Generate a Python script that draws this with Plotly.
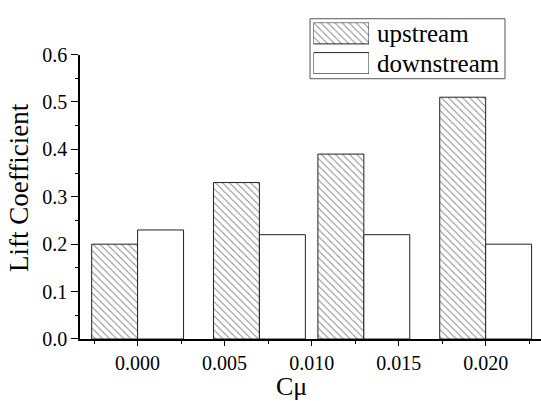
import plotly.graph_objects as go

# Blowing momentum coefficient of each case and the lift coefficients
c_mu = [0.0, 0.007, 0.013, 0.020]
upstream = [0.20, 0.33, 0.39, 0.51]
downstream = [0.23, 0.22, 0.22, 0.20]
series_names = ["upstream", "downstream"]
x_ticks = [0.000, 0.005, 0.010, 0.015, 0.020]
x_tick_labels = ["0.000", "0.005", "0.010", "0.015", "0.020"]
y_ticks = [0.0, 0.1, 0.2, 0.3, 0.4, 0.5, 0.6]

W, H = 541, 401
ML, MB = 80, 62
plot_w = W - ML
plot_h = H - MB
bar_w = 0.00264
FONT = "Liberation Serif, Times New Roman, serif"
HATCH = dict(shape="\\", size=5, solidity=0.2, fgcolor="#111111",
             bgcolor="white", fillmode="overlay")
EDGE = dict(color="#222222", width=1)


def px_x(p):
    return (p - ML) / plot_w


def px_y(p):
    return (plot_h - p) / plot_h


fig = go.Figure()
fig.add_trace(go.Bar(x=c_mu, y=upstream, width=bar_w, offset=-bar_w,
                     marker=dict(color="white", pattern=HATCH, line=EDGE),
                     name=series_names[0], showlegend=False))
fig.add_trace(go.Bar(x=c_mu, y=downstream, width=bar_w, offset=0,
                     marker=dict(color="white", line=EDGE),
                     name=series_names[1], showlegend=False))

# Legend key swatches drawn on their own small axes
fig.add_trace(go.Bar(y=[1], x=[1], orientation="h", width=0.71,
                     marker=dict(color="white", pattern=HATCH, line=EDGE),
                     xaxis="x2", yaxis="y2", showlegend=False, hoverinfo="skip"))
fig.add_trace(go.Bar(y=[0], x=[1], orientation="h", width=0.71,
                     marker=dict(color="white", line=EDGE),
                     xaxis="x2", yaxis="y2", showlegend=False, hoverinfo="skip"))

fig.add_shape(type="rect", xref="paper", yref="paper",
              x0=px_x(310), x1=px_x(505), y0=px_y(70), y1=px_y(8),
              line=dict(color="#555555", width=1), fillcolor="white", layer="below")
for name, cy in zip(series_names, [23, 54]):
    fig.add_annotation(xref="paper", yref="paper", x=px_x(375), y=px_y(cy),
                       text=name, showarrow=False, xanchor="left", yanchor="middle",
                       font=dict(family=FONT, size=25, color="black"))

# Axis titles
fig.add_annotation(xref="paper", yref="paper", x=px_x(291), y=px_y(388),
                   text="Cμ", showarrow=False, xanchor="center", yanchor="middle",
                   font=dict(family=FONT, size=26, color="black"))
fig.add_annotation(xref="paper", yref="paper", x=px_x(19), y=px_y(183),
                   text="Lift Coefficient", textangle=-90, showarrow=False,
                   xanchor="center", yanchor="middle",
                   font=dict(family=FONT, size=27, color="black"))

fig.update_layout(
    width=W, height=H,
    margin=dict(l=ML, r=0, t=0, b=MB),
    paper_bgcolor="white", plot_bgcolor="white",
    barmode="overlay",
    font=dict(family=FONT, color="black"),
    xaxis=dict(range=[-0.00331, 0.02318], tickvals=x_ticks, ticktext=x_tick_labels,
               ticks="outside", ticklen=5, tickwidth=1, tickcolor="black",
               minor=dict(ticks="outside", ticklen=3, dtick=0.0025, tick0=-0.0025,
                          tickcolor="black"),
               showline=True, linecolor="black", linewidth=1.5, showgrid=False,
               zeroline=False, tickfont=dict(size=20)),
    yaxis=dict(domain=[0, px_y(45)], range=[0, 0.6], tickvals=y_ticks,
               tickformat=".1f",
               ticks="outside", ticklen=7, tickwidth=1, tickcolor="black",
               minor=dict(ticks="outside", ticklen=3, dtick=0.05, tickcolor="black"),
               showline=True, linecolor="black", linewidth=1.5, showgrid=False,
               zeroline=False, tickfont=dict(size=20)),
    xaxis2=dict(domain=[px_x(313.5), px_x(369)], range=[0, 1], visible=False,
                anchor="y2"),
    yaxis2=dict(domain=[px_y(65), px_y(12)], range=[-0.355, 1.355], visible=False,
                anchor="x2"),
)

fig.write_html("out.html")
